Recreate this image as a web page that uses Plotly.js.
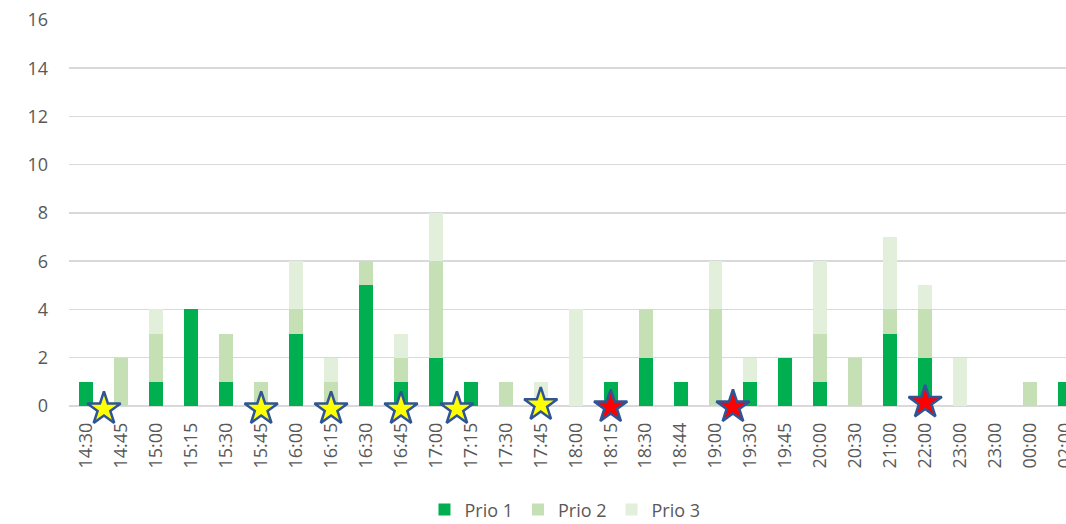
<!DOCTYPE html>
<html>
<head>
<meta charset="utf-8">
<script src="https://cdn.plot.ly/plotly-3.0.1.min.js"></script>
<style>html,body{margin:0;padding:0;background:#fff;}#chart{width:1066px;height:524px;}</style>
</head>
<body>
<div id="chart"></div>
<script>
// Category labels (note: "23:00" appears twice in the source)
const timeLabels = ["14:30","14:45","15:00","15:15","15:30","15:45","16:00","16:15","16:30","16:45",
  "17:00","17:15","17:30","17:45","18:00","18:15","18:30","18:44","19:00","19:30",
  "19:45","20:00","20:30","21:00","22:00","23:00","23:00","00:00","02:00"];
const prio1 = [1,0,1,4,1,0,3,0,5,1, 2,1,0,0,0,1,2,1,0,1, 2,1,0,3,2,0,0,0,1];
const prio2 = [0,2,2,0,2,1,1,1,1,1, 4,0,1,0,0,0,2,0,4,0, 0,2,2,1,2,0,0,1,0];
const prio3 = [0,0,1,0,0,0,2,1,0,1, 2,0,0,1,4,0,0,0,2,1, 0,3,0,3,1,2,0,0,0];

// Star markers (position in category units, small vertical offset, and colour)
const starX = [0.5, 5, 7, 9, 10.6, 13, 15, 18.5, 24];
const starY = [-0.12, -0.12, -0.12, -0.12, -0.12, 0.05, -0.04, -0.04, 0.15];
const starColors = ["#FFFF00","#FFFF00","#FFFF00","#FFFF00","#FFFF00","#FFFF00","#FF0000","#FF0000","#FF0000"];

const idx = timeLabels.map((_, i) => i);
const font = {family: "Open Sans, Liberation Sans, sans-serif", color: "#595959", size: 18};

const traces = [
  {type: "bar", name: "Prio 1", x: idx, y: prio1, marker: {color: "#00B050"}, hoverinfo: "skip"},
  {type: "bar", name: "Prio 2", x: idx, y: prio2, marker: {color: "#C5E0B4"}, hoverinfo: "skip"},
  {type: "bar", name: "Prio 3", x: idx, y: prio3, marker: {color: "#E2EFDA"}, hoverinfo: "skip"},
  {type: "scatter", mode: "markers", x: starX, y: starY, showlegend: false, cliponaxis: false,
   marker: {symbol: "star", size: 25, color: starColors, line: {color: "#2F5597", width: 2.5}}, hoverinfo: "skip"}
];

const layout = {
  width: 1066, height: 524,
  margin: {l: 48, r: 0, t: 20, b: 106},
  paper_bgcolor: "#fff", plot_bgcolor: "#fff",
  font: font,
  barmode: "stack",
  bargap: 0.6,
  xaxis: {
    domain: [21 / 1018, 1],
    range: [-0.5, 28.03],
    tickmode: "array", tickvals: idx, ticktext: timeLabels,
    tickangle: -90, showgrid: false, zeroline: false, showline: false,
    ticks: "", tickfont: font, fixedrange: true, ticklabeloverflow: "allow"
  },
  yaxis: {
    anchor: "free", position: 0,
    range: [-0.5, 16], dtick: 2, tick0: 0,
    showgrid: true, gridcolor: "#D9D9D9", gridwidth: 1.5,
    zeroline: true, zerolinecolor: "#D9D9D9", zerolinewidth: 1.5,
    ticks: "", tickfont: font, fixedrange: true, automargin: false
  },
  showlegend: true,
  legend: {
    orientation: "h", traceorder: "normal",
    x: 0.53, xanchor: "center", xref: "container",
    y: 0.027, yanchor: "middle", yref: "container",
    font: font, itemclick: false
  }
};

Plotly.newPlot("chart", traces, layout, {displayModeBar: false, staticPlot: true});
</script>
</body>
</html>
